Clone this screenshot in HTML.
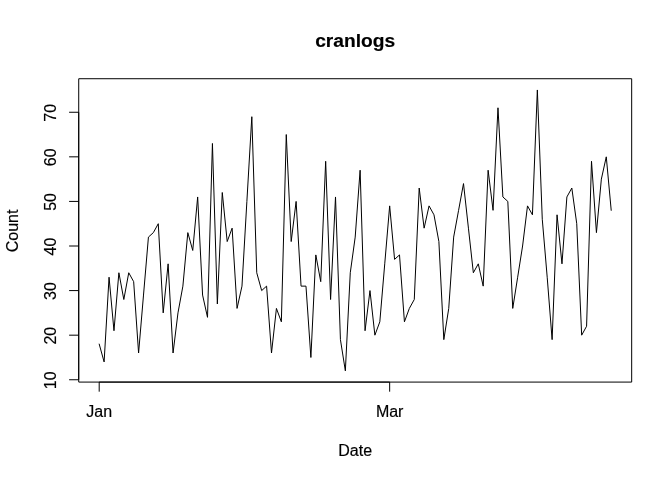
<!DOCTYPE html>
<html lang="en">
<head>
<meta charset="utf-8">
<title>cranlogs</title>
<style>
html,body{margin:0;padding:0;background:#fff;}
body{width:672px;height:480px;overflow:hidden;}
svg{display:block;}
text{font-family:"Liberation Sans",Arial,Helvetica,sans-serif;fill:#000;stroke:#000;stroke-width:0.18px;stroke-linejoin:round;}
.lab{font-size:16px;}
.main{font-size:19.2px;font-weight:bold;}
</style>
</head>
<body>
<svg width="672" height="480" viewBox="0 0 672 480">
<rect x="0" y="0" width="672" height="480" fill="#ffffff"/>

<polyline fill="none" stroke="#000" stroke-width="1" stroke-linejoin="round" stroke-linecap="round" points="99.20,344.09 104.12,361.93 109.05,277.21 113.97,330.72 118.89,272.76 123.82,299.51 128.74,272.76 133.66,281.67 138.58,353.01 143.51,295.05 148.43,237.09 153.35,232.63 158.28,223.71 163.20,312.88 168.12,263.84 173.05,353.01 177.97,312.88 182.89,286.13 187.82,232.63 192.74,250.46 197.66,196.96 202.58,295.05 207.51,317.34 212.43,143.46 217.35,303.97 222.28,192.50 227.20,241.55 232.12,228.17 237.05,308.42 241.97,286.13 246.89,201.42 251.82,116.71 256.74,272.76 261.66,290.59 266.58,286.13 271.51,353.01 276.43,308.42 281.35,321.80 286.28,134.54 291.20,241.55 296.12,201.42 301.05,286.13 305.97,286.13 310.89,357.47 315.82,254.92 320.74,281.67 325.66,161.29 330.58,299.51 335.51,196.96 340.43,339.63 345.35,370.84 350.28,272.76 355.20,237.09 360.12,170.21 365.05,330.72 369.97,290.59 374.89,335.18 379.82,321.80 384.74,263.84 389.66,205.88 394.58,259.38 399.51,254.92 404.43,321.80 409.35,308.42 414.28,299.51 419.20,188.04 424.12,228.17 429.05,205.88 433.97,214.80 438.89,241.55 443.82,339.63 448.74,308.42 453.66,237.09 458.58,210.34 463.51,183.59 468.43,228.17 473.35,272.76 478.28,263.84 483.20,286.13 488.12,170.21 493.05,210.34 497.97,107.79 502.89,196.96 507.82,201.42 512.74,308.42 517.66,277.21 522.58,246.00 527.51,205.88 532.43,214.80 537.35,89.96 542.28,219.25 547.20,277.21 552.12,339.63 557.05,214.80 561.97,263.84 566.89,196.96 571.82,188.04 576.74,223.71 581.66,335.18 586.58,326.26 591.51,161.29 596.43,232.63 601.35,179.13 606.28,156.83 611.20,210.34"/>
<rect x="78.72" y="78.72" width="552.96" height="303.36" fill="none" stroke="#000" stroke-width="1" stroke-linejoin="round"/>
<path d="M99.20,382.08 H389.66 M99.20,382.08 v9.6 M389.66,382.08 v9.6" fill="none" stroke="#000" stroke-width="1"/>
<path d="M78.72,379.76 V112.25 M78.72,379.76 h-9.6 M78.72,335.18 h-9.6 M78.72,290.59 h-9.6 M78.72,246.00 h-9.6 M78.72,201.42 h-9.6 M78.72,156.83 h-9.6 M78.72,112.25 h-9.6" fill="none" stroke="#000" stroke-width="1"/>
<text class="lab" x="99.20" y="416.64" text-anchor="middle">Jan</text>
<text class="lab" x="389.66" y="416.64" text-anchor="middle">Mar</text>
<text class="lab" transform="translate(56.2,380.26) rotate(-90)" text-anchor="middle">10</text>
<text class="lab" transform="translate(56.2,335.68) rotate(-90)" text-anchor="middle">20</text>
<text class="lab" transform="translate(56.2,291.09) rotate(-90)" text-anchor="middle">30</text>
<text class="lab" transform="translate(56.2,246.50) rotate(-90)" text-anchor="middle">40</text>
<text class="lab" transform="translate(56.2,201.92) rotate(-90)" text-anchor="middle">50</text>
<text class="lab" transform="translate(56.2,157.33) rotate(-90)" text-anchor="middle">60</text>
<text class="lab" transform="translate(56.2,112.75) rotate(-90)" text-anchor="middle">70</text>
<text class="lab" x="355.2" y="456.0" text-anchor="middle">Date</text>
<text class="lab" transform="translate(17.5,230.9) rotate(-90)" text-anchor="middle">Count</text>
<text class="main" x="355.2" y="47.2" text-anchor="middle">cranlogs</text>
</svg>
</body>
</html>
